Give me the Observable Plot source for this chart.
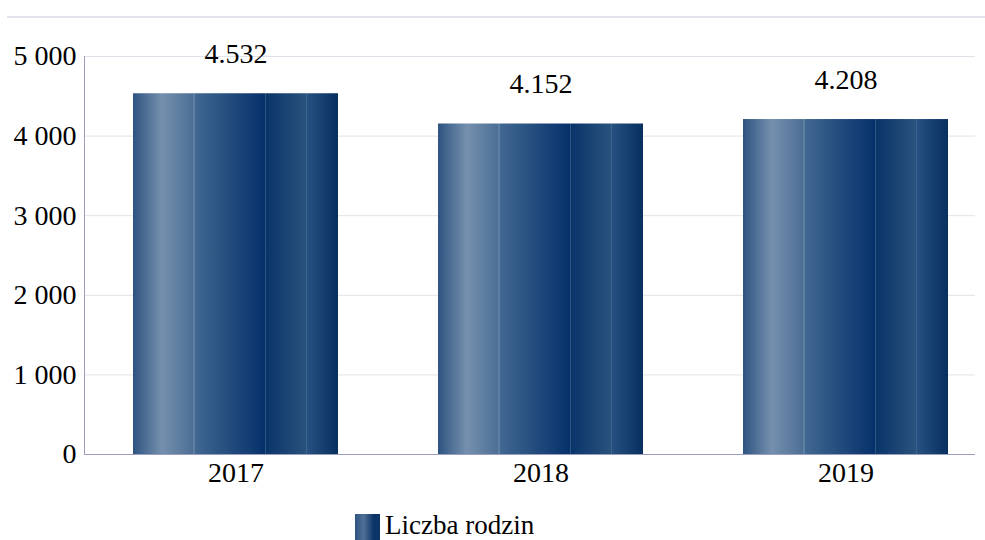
<!DOCTYPE html>
<html>
<head>
<meta charset="utf-8">
<script src="https://cdn.jsdelivr.net/npm/d3@7"></script>
<script src="https://cdn.jsdelivr.net/npm/@observablehq/plot@0.6"></script>
<style>
  html, body { margin: 0; padding: 0; background: #fff; }
  #wrap { position: relative; width: 985px; height: 540px; overflow: hidden; font-family: 'Liberation Serif', 'Times New Roman', 'DejaVu Serif', serif; }
  #topline { position: absolute; left: 7px; top: 16px; width: 978px; height: 2px; background: #e4e4f0; }
  #legend { position: absolute; left: 355px; top: 511px; display: flex; align-items: flex-start; gap: 5px; font-size: 27px; color: #000; font-family: 'Liberation Serif', 'Times New Roman', serif; }
  #legend .sw { width: 25px; height: 29px; margin-top: 3px; background: linear-gradient(to right, #2f5482 0%, #4f7097 35%, #0a3368 75%, #0c3566 100%); }
  #legend span { line-height: 28px; }
  #chart svg text { font-family: 'Liberation Serif', 'Times New Roman', serif; }
</style>
</head>
<body>
<div id="wrap">
  <div id="topline"></div>
  <div id="chart"></div>
  <div id="legend"><div class="sw"></div><span>Liczba rodzin</span></div>
</div>
<script>
const years = ["2017", "2018", "2019"];
const families = [4532, 4152, 4208];
const yTicks = [0, 1000, 2000, 3000, 4000, 5000];
const seriesName = "Liczba rodzin";

const data = years.map((y, i) => ({year: y, value: families[i]}));

const spaceFmt = d3.formatLocale({decimal: ",", thousands: "\u00a0", grouping: [3], currency: ["", ""]}).format(",");
const dotFmt = d3.formatLocale({decimal: ",", thousands: ".", grouping: [3], currency: ["", ""]}).format(",");

const ns = "http://www.w3.org/2000/svg";
const defs = () => {
  const d = document.createElementNS(ns, "defs");
  d.innerHTML = `
  <linearGradient id="barGrad" x1="0" x2="1" y1="0" y2="0">
    <stop offset="0" stop-color="#2e5380"/>
    <stop offset="0.14" stop-color="#7590ae"/>
    <stop offset="0.295" stop-color="#4c6e94"/>
    <stop offset="0.295" stop-color="#5f7fa2"/>
    <stop offset="0.301" stop-color="#5f7fa2"/>
    <stop offset="0.301" stop-color="#416891"/>
    <stop offset="0.645" stop-color="#05306a"/>
    <stop offset="0.645" stop-color="#2e5683"/>
    <stop offset="0.651" stop-color="#2e5683"/>
    <stop offset="0.651" stop-color="#0a3569"/>
    <stop offset="0.845" stop-color="#2a527e"/>
    <stop offset="0.845" stop-color="#3d628b"/>
    <stop offset="0.851" stop-color="#3d628b"/>
    <stop offset="0.851" stop-color="#255080"/>
    <stop offset="1" stop-color="#072f5f"/>
  </linearGradient>`;
  return d;
};

const yAxisLine = (index, scales, values, dimensions) => {
  const l = document.createElementNS(ns, "line");
  const x = dimensions.marginLeft + 0.5;
  l.setAttribute("x1", x);
  l.setAttribute("x2", x);
  l.setAttribute("y1", scales.y(yTicks[yTicks.length - 1]));
  l.setAttribute("y2", scales.y(0));
  l.setAttribute("stroke", "#9d9dbd");
  return l;
};

const chart = Plot.plot({
  width: 985,
  height: 505,
  marginTop: 56,
  marginBottom: 51,
  marginLeft: 84,
  marginRight: 10,
  style: {fontFamily: "'Liberation Serif', 'Times New Roman', serif", fontSize: "28px", color: "#000", background: "transparent"},
  x: {domain: years, range: [83, 998], paddingInner: 0.328, paddingOuter: 0.164, label: null},
  y: {domain: [0, 5000], label: null},
  marks: [
    defs,
    Plot.ruleY(yTicks.filter(d => d > 0), {stroke: "#e2e2ea", strokeWidth: 1}),
    Plot.barY(data, {x: "year", y: "value", fill: "url(#barGrad)"}),
    Plot.ruleY([0], {stroke: "#9d9dbd", strokeWidth: 1}),
    yAxisLine,
    Plot.axisY({ticks: yTicks, tickSize: 0, tickPadding: 8, tickFormat: spaceFmt, fontSize: 28, label: null}),
    Plot.axisX({tickSize: 0, tickPadding: 8, fontSize: 28, label: null}),
    Plot.text(data, {x: "year", y: "value", text: d => dotFmt(d.value), dy: -40, fontSize: 28, fill: "#000"})
  ]
});
document.getElementById("chart").appendChild(chart);
</script>
</body>
</html>
